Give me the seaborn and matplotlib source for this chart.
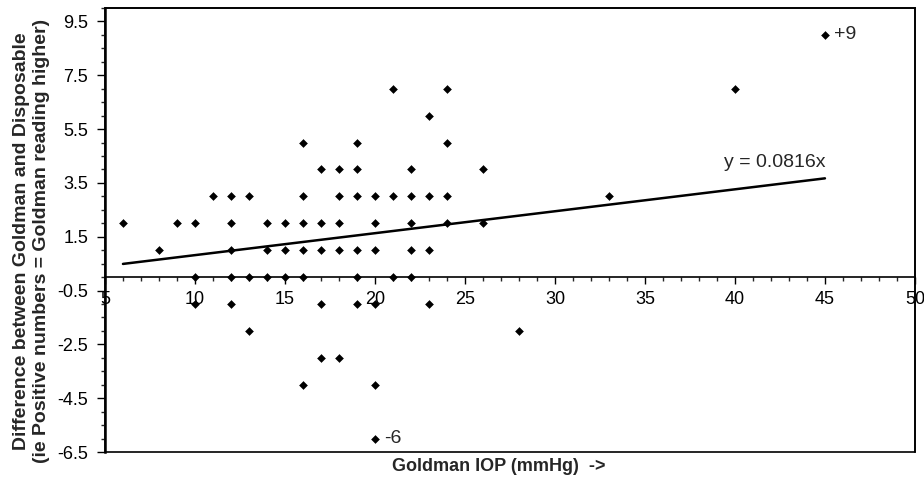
import seaborn as sns
import matplotlib.pyplot as plt
import matplotlib.ticker as mticker
import numpy as np

# Goldman IOP (x) and difference Goldman - Disposable (y), one entry per visible point
goldman_iop = [45,
               21, 24, 40,
               23,
               16, 19, 24,
               17, 18, 19, 22, 26,
               11, 12, 13, 16, 18, 19, 20, 21, 22, 23, 24, 33,
               6, 9, 10, 12, 14, 15, 16, 17, 18, 20, 22, 24, 26,
               8, 12, 14, 15, 16, 17, 18, 19, 20, 22, 23,
               10, 12, 13, 14, 15, 16, 19, 21, 22,
               10, 12, 17, 19, 20, 23,
               13, 28,
               17, 18,
               16, 20,
               20]
difference = [9,
              7, 7, 7,
              6,
              5, 5, 5,
              4, 4, 4, 4, 4,
              3, 3, 3, 3, 3, 3, 3, 3, 3, 3, 3, 3,
              2, 2, 2, 2, 2, 2, 2, 2, 2, 2, 2, 2, 2,
              1, 1, 1, 1, 1, 1, 1, 1, 1, 1, 1,
              0, 0, 0, 0, 0, 0, 0, 0, 0,
              -1, -1, -1, -1, -1, -1,
              -2, -2,
              -3, -3,
              -4, -4,
              -6]

# trend line y = 0.0816x, end points
trend_iop = [6, 45]
trend_diff = [0.49, 3.67]

x_ticks = [5, 10, 15, 20, 25, 30, 35, 40, 45, 50]
y_ticks = [-6.5, -4.5, -2.5, -0.5, 1.5, 3.5, 5.5, 7.5, 9.5]

sns.set_style("white")
plt.rcParams["font.family"] = ["Liberation Sans", "DejaVu Sans"]
plt.rcParams["axes.unicode_minus"] = False

fig = plt.figure(figsize=(9.24, 4.82), dpi=100)
ax = fig.add_axes([0.1136, 0.0622, 0.8766, 0.9212])

sns.scatterplot(x=goldman_iop, y=difference, marker="D", s=16, color="black",
                edgecolor="black", linewidth=0.4, ax=ax, zorder=3)
sns.lineplot(x=trend_iop, y=trend_diff, color="black", linewidth=1.8, ax=ax)

ax.set_xlim(5, 50)
ax.set_ylim(-6.5, 10)

# x axis sits on the zero line, box drawn by the axes patch
ax.spines["bottom"].set_position(("data", 0))
for side in ["bottom", "top", "right"]:
    ax.spines[side].set_linewidth(1.2)
    ax.spines[side].set_color("black")
ax.spines["left"].set_linewidth(1.8)
ax.spines["left"].set_color("black")
ax.patch.set_edgecolor("black")
ax.patch.set_linewidth(1.2)

ax.xaxis.set_major_locator(mticker.FixedLocator(x_ticks))
ax.xaxis.set_minor_locator(mticker.MultipleLocator(1))
ax.yaxis.set_major_locator(mticker.FixedLocator(y_ticks))
ax.yaxis.set_minor_locator(mticker.MultipleLocator(0.5))
ax.yaxis.set_major_formatter(mticker.FormatStrFormatter("%.1f"))

ax.tick_params(axis="x", which="major", direction="out", length=5, width=1, pad=5,
               labelsize=13, bottom=True, colors="black")
ax.tick_params(axis="x", which="minor", direction="out", length=3, width=1, bottom=True)
ax.tick_params(axis="y", which="major", direction="out", length=6, width=1, pad=6,
               labelsize=13, left=True, colors="black")
ax.tick_params(axis="y", which="minor", direction="out", length=3, width=1, left=True)

ax.text(45.5, 9, "+9", fontsize=14, ha="left", va="center")
ax.text(20.5, -6, "-6", fontsize=14, ha="left", va="center")
ax.text(42.2, 4.27, "y = 0.0816x", fontsize=14, ha="center", va="center")

ax.set_xlabel("Goldman IOP (mmHg)  ->", fontsize=13, fontweight="bold")
ax.xaxis.set_label_coords(0.486, -0.014)
ax.set_ylabel("Difference between Goldman and Disposable\n(ie Positive numbers = Goldman reading higher)",
              fontsize=14, fontweight="bold", linespacing=1.2)
ax.yaxis.set_label_coords(-0.068, 0.475)

plt.savefig("out.png", dpi=100)
